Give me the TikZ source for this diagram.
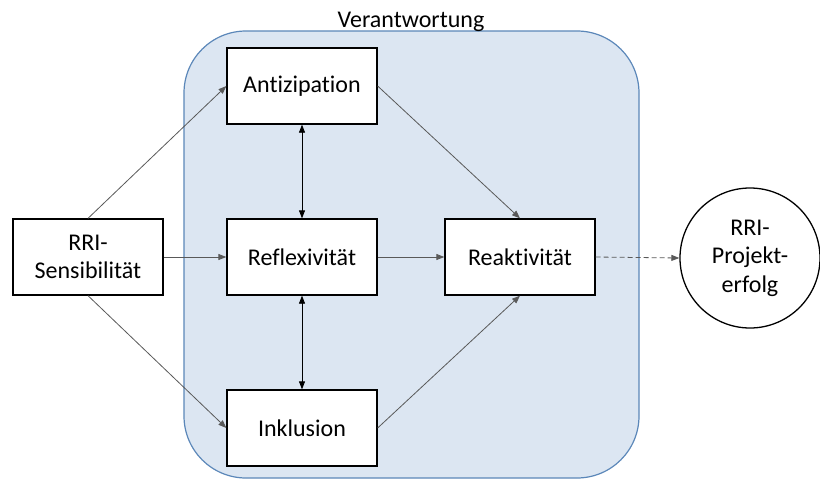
\documentclass[tikz,border=0pt]{standalone}
\usepackage{fontspec}
\setmainfont[Ligatures=NoCommon]{Carlito}
\usetikzlibrary{arrows.meta}
\definecolor{frameblue}{HTML}{5B87B9}
\definecolor{fillblue}{HTML}{DCE6F2}
\definecolor{linegray}{HTML}{595959}
\begin{document}
\begin{tikzpicture}[x=1pt,y=-1pt,
  label font/.style={font=\fontsize{24}{28.5}\selectfont},
  box/.style={draw=black,line width=1.3pt,fill=white,minimum width=150pt,minimum height=76pt,inner sep=0pt,align=center,label font},
  goal/.style={draw=black,line width=1.3pt,fill=white,circle,minimum size=140pt,inner sep=0pt,align=center,label font},
  link/.style={draw=linegray,line width=0.8pt,-{Triangle[length=8pt,width=6pt]}},
  twoway/.style={draw=black,line width=0.8pt,{Triangle[length=8pt,width=6pt]}-{Triangle[length=8pt,width=6pt]}},
  dashlink/.style={link,dashed,dash pattern=on 5pt off 3pt}]
\useasboundingbox (0,0) rectangle (820,482);
% responsibility area
\draw[draw=frameblue,fill=fillblue,line width=1.2pt,rounded corners=62pt] (184,31) rectangle (639,478);
\node[label font,anchor=base] (verantw) at (411,27) {Verantwortung};
% boxes
\node[box] (sens) at (88,257) {RRI-\\Sensibilität};
\node[box] (anti) at (302,86) {Antizipation};
\node[box] (refl) at (302,257) {Reflexivität};
\node[box] (inkl) at (302,428) {Inklusion};
\node[box] (reak) at (520,257) {Reaktivität};
\node[goal] (erfolg) at (750,258) {RRI-\\Projekt-\\erfolg};
% connectors
\draw[link] (sens.north) -- (anti.west);
\draw[link] (sens.east) -- (refl.west);
\draw[link] (sens.south) -- (inkl.west);
\draw[link] (anti.east) -- (reak.north);
\draw[link] (refl.east) -- (reak.west);
\draw[link] (inkl.east) -- (reak.south);
\draw[twoway] (anti.south) -- (refl.north);
\draw[twoway] (refl.south) -- (inkl.north);
\draw[dashlink] (reak.east) -- (erfolg.west);
\end{tikzpicture}
\end{document}
